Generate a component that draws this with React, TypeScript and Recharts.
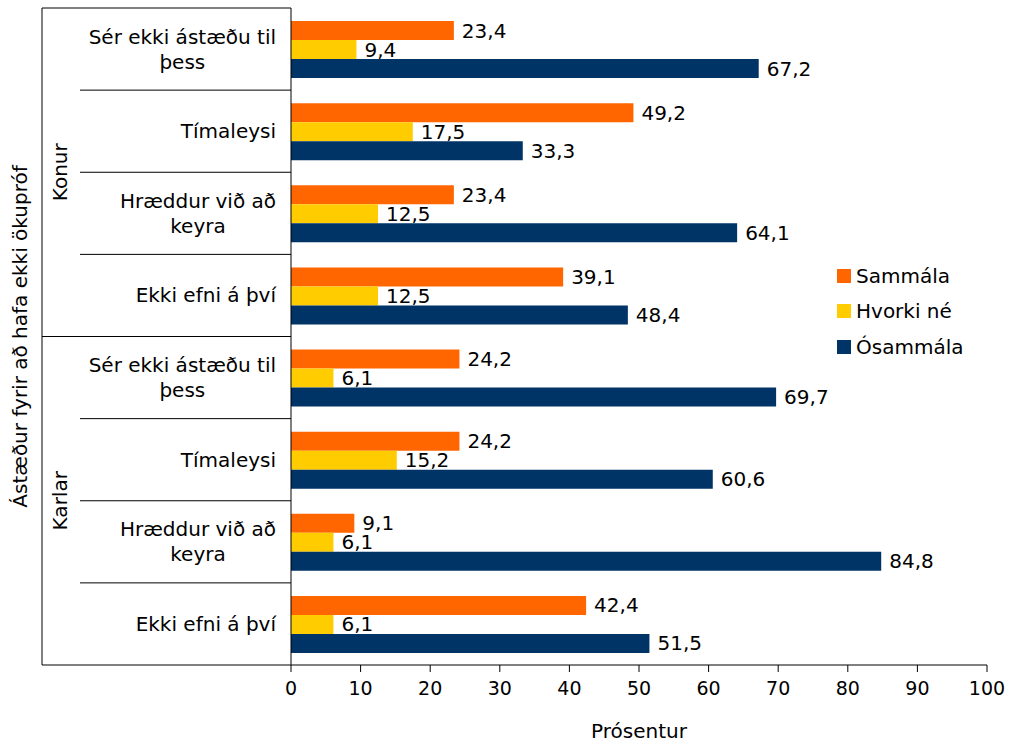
import React from 'react'
import { BarChart, Bar, XAxis, YAxis, LabelList } from 'recharts'

const groups = ['Konur', 'Karlar']
const reasons = [
  ['Sér ekki ástæðu til', 'þess'],
  ['Tímaleysi'],
  ['Hræddur við að', 'keyra'],
  ['Ekki efni á því'],
]
const sammala = [23.4, 49.2, 23.4, 39.1, 24.2, 24.2, 9.1, 42.4]
const hvorki = [9.4, 17.5, 12.5, 12.5, 6.1, 15.2, 6.1, 6.1]
const osammala = [67.2, 33.3, 64.1, 48.4, 69.7, 60.6, 84.8, 51.5]
const xTicks = [0, 10, 20, 30, 40, 50, 60, 70, 80, 90, 100]

const series = [
  { key: 'sammala', name: 'Sammála', color: '#FF6600' },
  { key: 'hvorki', name: 'Hvorki né', color: '#FFCC00' },
  { key: 'osammala', name: 'Ósammála', color: '#003366' },
]

const W = 1010
const H = 742
const FONT = '"DejaVu Sans", Verdana, sans-serif'
const FS = 20
const Y_AXIS_W = 291
const TOP = 8
const X_AXIS_H = 77
const OUTER_X = 42
const INNER_X = 80

const data = groups.flatMap((g, gi) =>
  reasons.map((r, ri) => {
    const i = gi * reasons.length + ri
    return {
      id: `${g}-${ri}`,
      lines: r,
      group: g,
      sammala: sammala[i],
      hvorki: hvorki[i],
      osammala: osammala[i],
    }
  })
)

const band = (H - TOP - X_AXIS_H) / data.length

let measureCtx: CanvasRenderingContext2D | null = null
function textWidth(s: string) {
  if (!measureCtx) measureCtx = document.createElement('canvas').getContext('2d')
  if (!measureCtx) return s.length * FS * 0.55
  measureCtx.font = `${FS}px ${FONT}`
  return measureCtx.measureText(s).width
}

const fmt = (v: any) => String(v).replace('.', ',')

function CategoryTick(props: any) {
  const { x, y, index } = props
  const row = data[index]
  if (!row) return null
  const lines = row.lines
  const lineH = 25
  const isGroupEnd = (index + 1) % reasons.length === 0
  const bottom = y + band / 2
  const top = y - band / 2
  const first = lines[0]
  const w1 = textWidth(first)
  return (
    <g>
      {lines.map((ln: string, li: number) => (
        <text
          key={li}
          x={li === 0 ? x : x - w1 / 2}
          y={y + (li - (lines.length - 1) / 2) * lineH}
          dy="0.35em"
          textAnchor={li === 0 ? 'end' : 'middle'}
          fontFamily={FONT}
          fontSize={FS}
          fill="#000"
        >
          {ln}
        </text>
      ))}
      <line
        x1={isGroupEnd ? OUTER_X : INNER_X}
        x2={Y_AXIS_W}
        y1={bottom}
        y2={bottom}
        stroke="#000"
      />
      {index === 0 && (
        <>
          <line x1={OUTER_X} x2={Y_AXIS_W} y1={top} y2={top} stroke="#000" />
          <line x1={OUTER_X} x2={OUTER_X} y1={top} y2={top + band * data.length} stroke="#000" />
          <text
            transform={`translate(20, ${top + (band * data.length) / 2}) rotate(-90)`}
            textAnchor="middle"
            dy="0.35em"
            fontFamily={FONT}
            fontSize={FS}
            fill="#000"
          >
            Ástæður fyrir að hafa ekki ökupróf
          </text>
        </>
      )}
      {index % reasons.length === 0 && (
        <text
          transform={`translate(60, ${top + (band * reasons.length) / 2}) rotate(-90)`}
          textAnchor="middle"
          dy="0.35em"
          fontFamily={FONT}
          fontSize={FS}
          fill="#000"
        >
          {row.group}
        </text>
      )}
    </g>
  )
}

export default function App() {
  return (
    <div style={{ position: 'absolute', left: 0, top: 0, width: W, height: H, background: '#fff' }}>
      <BarChart
        width={W}
        height={H}
        data={data}
        layout="vertical"
        barSize={19}
        barGap={0}
        margin={{ top: TOP, right: 23, left: 0, bottom: 0 }}
      >
        <XAxis
          type="number"
          domain={[0, 100]}
          ticks={xTicks}
          height={X_AXIS_H}
          stroke="#000"
          tickSize={7}
          tickMargin={10}
          tick={{ fontFamily: FONT, fontSize: 19, fill: '#000' }}
          label={{
            value: 'Prósentur',
            position: 'insideBottom',
            offset: 4,
            fontFamily: FONT,
            fontSize: FS,
            fill: '#000',
          }}
        />
        <YAxis
          type="category"
          dataKey="id"
          width={Y_AXIS_W}
          stroke="#000"
          tickLine={false}
          tickSize={0}
          tickMargin={15}
          interval={0}
          tick={<CategoryTick />}
        />
        {series.map((s) => (
          <Bar key={s.key} dataKey={s.key} name={s.name} fill={s.color} isAnimationActive={false}>
            <LabelList
              dataKey={s.key}
              position="right"
              offset={8}
              formatter={fmt}
              style={{ fontFamily: FONT, fontSize: FS, fill: '#000' }}
            />
          </Bar>
        ))}
      </BarChart>
      <div style={{ position: 'absolute', left: 837, top: 258, fontFamily: FONT, fontSize: FS, color: '#000' }}>
        {series.map((s) => (
          <div key={s.key} style={{ display: 'flex', alignItems: 'center', height: 35.5 }}>
            <span style={{ width: 14, height: 14, background: s.color, marginRight: 5, display: 'inline-block' }} />
            <span>{s.name}</span>
          </div>
        ))}
      </div>
    </div>
  )
}
